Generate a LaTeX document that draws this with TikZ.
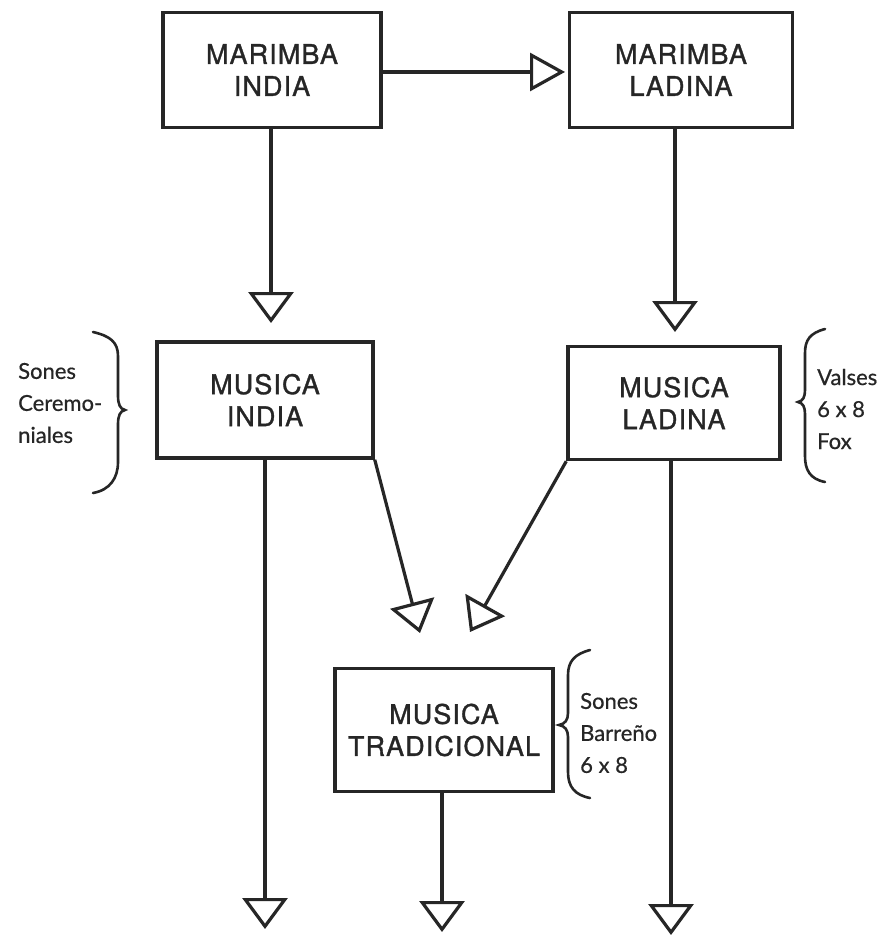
\documentclass[tikz,border=0pt]{standalone}
\usepackage{fontspec}
\setmainfont{TeX Gyre Heros}
\newfontfamily\boxfont[LetterSpace=4, FakeBold=1.2]{TeX Gyre Heros}
\newfontfamily\notefont[FakeBold=0.6]{Lato}
\usepackage{tikz}
\usetikzlibrary{arrows.meta}
\tikzset{
  flowarrow/.style={-{Triangle[open, length=31pt, width=45pt]}, line width=3.2pt, draw=black!85},
  stagebox/.style={draw=black!85, line width=3.5pt, align=center, inner sep=0pt, text=black!85,
    font=\boxfont\fontsize{27}{32}\selectfont},
  bracket/.style={draw=black!85, line width=2.6pt, line cap=round},
  sidenote/.style={align=left, anchor=west, inner sep=0pt, text=black!85,
    font=\notefont\fontsize{22}{32}\selectfont}
}

\begin{document}
\begin{tikzpicture}[x=1pt, y=-1pt]
        \useasboundingbox (0,0) rectangle (893,936);
        \fill[white] (0,0) rectangle (893,936);

        % boxes
        \node[stagebox, minimum width=218pt, minimum height=115pt] (mi) at (272,70) {MARIMBA\\INDIA};
        \node[stagebox, minimum width=223pt, minimum height=115pt] (ml) at (681,70) {MARIMBA\\LADINA};
        \node[stagebox, minimum width=216pt, minimum height=116pt] (msi) at (265,400) {MUSICA\\INDIA};
        \node[stagebox, minimum width=212pt, minimum height=113pt] (msl) at (674,403) {MUSICA\\LADINA};
        \node[stagebox, minimum width=218pt, minimum height=123pt] (mst) at (444,730) {MUSICA\\TRADICIONAL};

        % arrow ends
        \coordinate (mlin) at (565,72);
        \coordinate (msiin) at (271,323);
        \coordinate (mslin) at (675,332);
        \coordinate (mstinl) at (420,633);
        \coordinate (mstinr) at (470,632);
        \coordinate (msiout) at (265,929);
        \coordinate (mstout) at (442,932);
        \coordinate (mslout) at (671,935);

        \draw[flowarrow, -{Triangle[open, length=35pt, width=38pt]}] (mi.east |- mlin) -- (mlin);
        \draw[flowarrow] (mi.south -| msiin) -- (msiin);
        \draw[flowarrow] (ml.south -| mslin) -- (mslin);
        \draw[flowarrow] (msi.south east) -- (mstinl);
        \draw[flowarrow] (msl.south west) -- (mstinr);
        \draw[flowarrow] (msi.south -| msiout) -- (msiout);
        \draw[flowarrow] (mst.south -| mstout) -- (mstout);
        \draw[flowarrow] (msl.south -| mslout) -- (mslout);

        % braces
        \draw[bracket] (93,332) .. controls (110,336) and (118,342) .. (118,356) -- (118,396)
          .. controls (118,404) and (120,409) .. (125,410) .. controls (120,411) and (118,416) .. (118,424)
          -- (118,462) .. controls (118,478) and (110,490) .. (93,493);
        \draw[bracket] (825,329) .. controls (810,333) and (805,340) .. (805,353) -- (805,390)
          .. controls (805,397) and (803,401) .. (798,402) .. controls (803,403) and (805,407) .. (805,414)
          -- (805,456) .. controls (805,470) and (810,479) .. (825,482);
        \draw[bracket] (590,650) .. controls (575,654) and (568,661) .. (568,675) -- (568,713)
          .. controls (568,720) and (565,724) .. (559,725) .. controls (565,726) and (568,730) .. (568,737)
          -- (568,772) .. controls (568,787) and (575,795) .. (590,798);

        \node[sidenote] (cer) at (18,403) {Sones\\Ceremo-\\niales};
        \node[sidenote] (vals) at (817,409) {Valses\\6 x 8\\Fox};
        \node[sidenote] (barr) at (580,733) {Sones\\Barreño\\6 x 8};
    \end{tikzpicture}
\end{document}
